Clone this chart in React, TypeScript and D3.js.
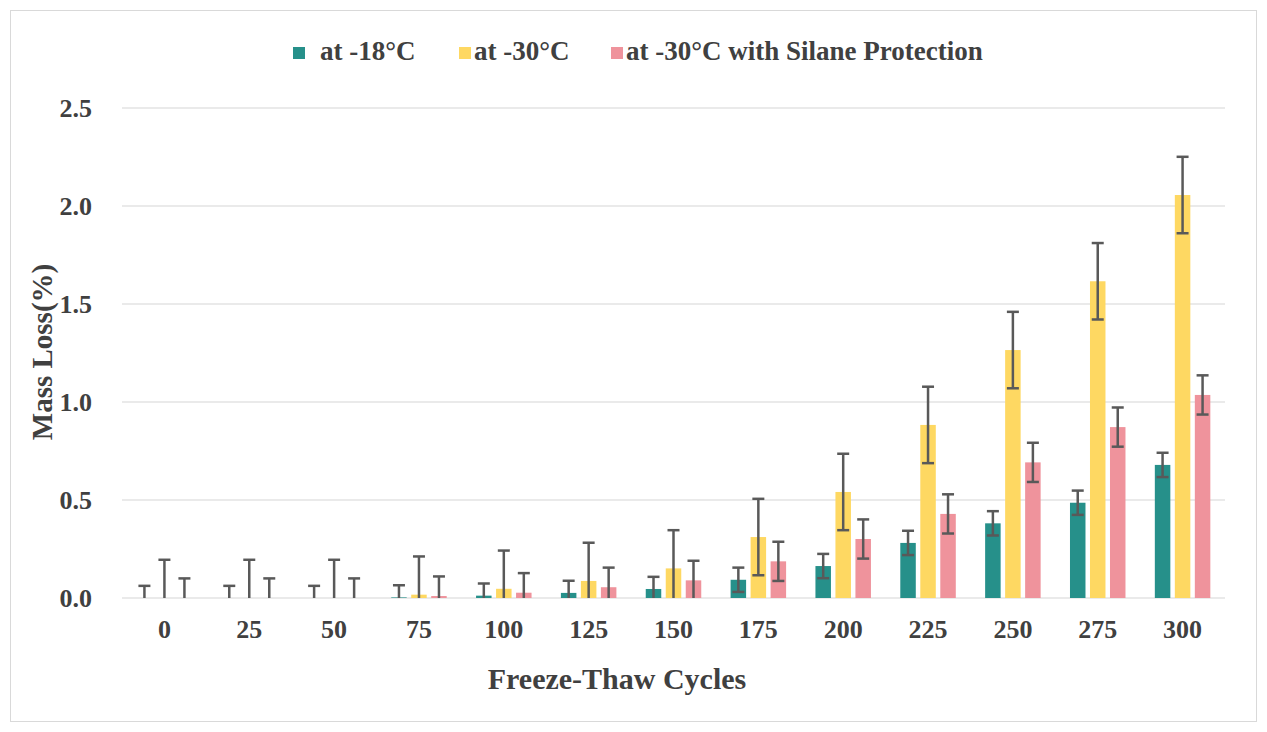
import React, { useEffect, useRef } from 'react';
import * as d3 from 'd3';

const CYCLES = ['0', '25', '50', '75', '100', '125', '150', '175', '200', '225', '250', '275', '300'];

const SERIES_NAMES = ['at -18°C', 'at -30°C', 'at -30°C with Silane Protection'];
const SERIES_COLORS = ['#26908a', '#fed862', '#ef939c'];

const LOSS_18 = [0, 0, 0, 0.003, 0.012, 0.026, 0.046, 0.093, 0.163, 0.281, 0.381, 0.486, 0.679];
const LOSS_30 = [0, 0, 0, 0.017, 0.047, 0.087, 0.151, 0.311, 0.541, 0.883, 1.265, 1.616, 2.056];
const LOSS_30_SILANE = [0, 0, 0, 0.01, 0.027, 0.055, 0.09, 0.187, 0.301, 0.429, 0.692, 0.872, 1.036];

const ERR_18 = [0.062, 0.062, 0.062, 0.062, 0.062, 0.062, 0.062, 0.062, 0.062, 0.062, 0.062, 0.062, 0.062];
const ERR_30 = [0.195, 0.195, 0.195, 0.195, 0.195, 0.195, 0.195, 0.195, 0.195, 0.195, 0.195, 0.195, 0.195];
const ERR_30_SILANE = [0.1, 0.1, 0.1, 0.1, 0.1, 0.1, 0.1, 0.1, 0.1, 0.1, 0.1, 0.1, 0.1];

const Y_TICKS = [0, 0.5, 1.0, 1.5, 2.0, 2.5];

interface BarDatum {
  cycle: string;
  series: number;
  value: number;
  err: number;
}

const FONT = '"Liberation Serif", "Times New Roman", serif';
const TEXT_COLOR = '#404040';

const App: React.FC = () => {
  const svgRef = useRef<SVGSVGElement>(null);

  useEffect(() => {
    if (!svgRef.current) {
      return;
    }
    const width = 1267;
    const height = 732;
    const svg = d3.select(svgRef.current);
    svg.selectAll('*').remove();
    svg.attr('width', width).attr('height', height).attr('viewBox', `0 0 ${width} ${height}`);

    svg
      .append('rect')
      .attr('x', 10.5)
      .attr('y', 10.5)
      .attr('width', 1246)
      .attr('height', 711)
      .attr('fill', '#ffffff')
      .attr('stroke', '#d9d9d9')
      .attr('stroke-width', 1);

    const values = [LOSS_18, LOSS_30, LOSS_30_SILANE];
    const errors = [ERR_18, ERR_30, ERR_30_SILANE];
    const data: BarDatum[] = [];
    CYCLES.forEach((cycle, i) => {
      values.forEach((vals, s) => {
        data.push({ cycle, series: s, value: vals[i], err: errors[s][i] });
      });
    });

    const x = d3.scaleBand<string>().domain(CYCLES).range([122, 1225]).padding(0);
    const xSeries = d3
      .scaleBand<number>()
      .domain([0, 1, 2])
      .range([-30, 30])
      .paddingInner(0.225)
      .paddingOuter(0.1125);
    const y = d3.scaleLinear().domain([0, 2.5]).range([598, 108]);

    // gridlines
    svg
      .append('g')
      .selectAll('line')
      .data(Y_TICKS)
      .enter()
      .append('line')
      .attr('x1', 122)
      .attr('x2', 1225)
      .attr('y1', (d) => y(d))
      .attr('y2', (d) => y(d))
      .attr('stroke', '#e3e3e3')
      .attr('stroke-width', 1.5);

    // y tick labels
    svg
      .append('g')
      .selectAll('text')
      .data(Y_TICKS)
      .enter()
      .append('text')
      .attr('x', 92)
      .attr('y', (d) => y(d) + 8.5)
      .attr('text-anchor', 'end')
      .attr('font-family', FONT)
      .attr('font-weight', 700)
      .attr('font-size', '26px')
      .attr('fill', TEXT_COLOR)
      .text((d) => d.toFixed(1));

    // x tick labels
    svg
      .append('g')
      .selectAll('text')
      .data(CYCLES)
      .enter()
      .append('text')
      .attr('x', (d) => (x(d) ?? 0) + x.bandwidth() / 2)
      .attr('y', 638)
      .attr('text-anchor', 'middle')
      .attr('font-family', FONT)
      .attr('font-weight', 700)
      .attr('font-size', '26px')
      .attr('fill', TEXT_COLOR)
      .text((d) => d);

    // bars
    const barX = (d: BarDatum) => (x(d.cycle) ?? 0) + x.bandwidth() / 2 + (xSeries(d.series) ?? 0);
    svg
      .append('g')
      .selectAll('rect')
      .data(data)
      .enter()
      .append('rect')
      .attr('x', barX)
      .attr('y', (d) => y(d.value))
      .attr('width', xSeries.bandwidth())
      .attr('height', (d) => y(0) - y(d.value))
      .attr('fill', (d) => SERIES_COLORS[d.series]);

    // error bars (clipped at axis minimum)
    const errG = svg.append('g').attr('stroke', '#595959').attr('stroke-width', 2.5).attr('fill', 'none');
    data.forEach((d) => {
      const cx = barX(d) + xSeries.bandwidth() / 2;
      const hi = d.value + d.err;
      const lo = d.value - d.err;
      const capHalf = 6;
      errG
        .append('line')
        .attr('x1', cx)
        .attr('x2', cx)
        .attr('y1', y(hi))
        .attr('y2', y(Math.max(lo, 0)));
      errG
        .append('line')
        .attr('x1', cx - capHalf)
        .attr('x2', cx + capHalf)
        .attr('y1', y(hi))
        .attr('y2', y(hi));
      if (lo >= 0) {
        errG
          .append('line')
          .attr('x1', cx - capHalf)
          .attr('x2', cx + capHalf)
          .attr('y1', y(lo))
          .attr('y2', y(lo));
      }
    });

    // axis titles
    svg
      .append('text')
      .attr('transform', 'translate(52, 352) rotate(-90)')
      .attr('text-anchor', 'middle')
      .attr('font-family', FONT)
      .attr('font-weight', 700)
      .attr('font-size', '29px')
      .attr('fill', TEXT_COLOR)
      .text('Mass Loss(%)');

    svg
      .append('text')
      .attr('x', 617)
      .attr('y', 689)
      .attr('text-anchor', 'middle')
      .attr('font-family', FONT)
      .attr('font-weight', 700)
      .attr('font-size', '30px')
      .attr('fill', TEXT_COLOR)
      .text('Freeze-Thaw Cycles');

    // legend
    const legendX = [293, 459, 611];
    SERIES_NAMES.forEach((name, i) => {
      const g = svg.append('g').attr('transform', `translate(${legendX[i]}, 0)`);
      g.append('rect').attr('x', 0).attr('y', 47).attr('width', 12).attr('height', 12).attr('fill', SERIES_COLORS[i]);
      g
        .append('text')
        .attr('x', i === 0 ? 27 : 15)
        .attr('y', 60)
        .attr('font-family', FONT)
        .attr('font-weight', 700)
        .attr('font-size', '27px')
        .attr('fill', TEXT_COLOR)
        .text(name);
    });
  }, []);

  return (
    <div style={{ position: 'absolute', left: 0, top: 0 }}>
      <svg ref={svgRef} style={{ display: 'block' }} />
    </div>
  );
};

export default App;
